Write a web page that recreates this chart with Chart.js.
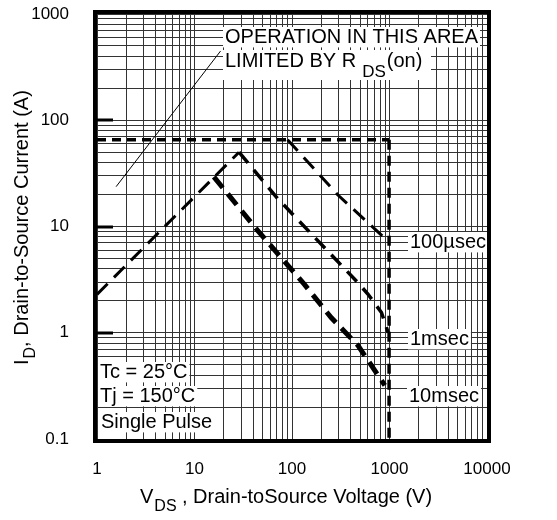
<!DOCTYPE html>
<html>
<head>
<meta charset="utf-8">
<script src="https://cdn.jsdelivr.net/npm/chart.js@4.4.0/dist/chart.umd.min.js"></script>
<style>
html, body { margin: 0; padding: 0; background: #fff; }
#wrap { width: 557px; height: 520px; }
</style>
</head>
<body>
<div id="wrap"><canvas id="soa"></canvas></div>
<script>
// decade tick labels
var xTicks = [1, 10, 100, 1000, 10000];
var yTicks = [0.1, 1, 10, 100, 1000];

// current limit (horizontal) and voltage limit (vertical)
var limitV = [1, 990];
var limitI = [65.5, 65.5];
var vmaxV = [990, 990];
var vmaxI = [65.5, 0.1];

// rising part up to the 1ms peak
var riseV = [1, 28.6];
var riseI = [2.3, 50];

var us100V = [90, 296, 970];
var us100I = [65.5, 19.8, 7.25];

var ms1V = [28.6, 71, 476, 603, 827, 970];
var ms1I = [50, 18.4, 2.95, 2.3, 1.55, 1.0];

var ms10V = [15.8, 44.3, 134, 252, 476, 895];
var ms10I = [29.3, 9.2, 2.85, 1.39, 0.757, 0.32];

// thin pointer line to the Rds(on) note
var pointerV = [1.57, 18.5];
var pointerI = [23.7, 448];

var FONT = '"Liberation Sans", Arial, Helvetica, sans-serif';

function pts(xs, ys) {
    return xs.map(function (v, i) { return { x: v, y: ys[i] }; });
}

// grid lines at 1..9 of every decade
function minorGrid(ticks) {
    var out = [];
    for (var i = 0; i < ticks.length - 1; i++)
        for (var m = 1; m < 10; m++) out.push(ticks[i] * m);
    out.push(ticks[ticks.length - 1]);
    return out;
}

function line(data, width, dash) {
    return {
        data: data,
        showLine: true,
        borderColor: '#000',
        backgroundColor: '#000',
        borderWidth: width,
        borderDash: dash,
        pointRadius: 0,
        fill: false,
        tension: 0
    };
}

function boxText(ctx, txt, x, base, size) {
    ctx.font = size + 'px ' + FONT;
    var w = ctx.measureText(txt).width;
    ctx.fillStyle = '#fff';
    ctx.fillRect(x - 2, base - size * 0.8, w + 4, size * 1.02);
    ctx.fillStyle = '#000';
    ctx.fillText(txt, x, base);
    return w;
}

var decor = {
    id: 'decor',
    afterDatasetsDraw: function (chart) {
        var ctx = chart.ctx, a = chart.chartArea, ys = chart.scales.y;
        ctx.save();
        // short decade marks on the left edge
        ctx.strokeStyle = '#000';
        ctx.lineWidth = 3;
        [1, 10, 100].forEach(function (v) {
            var py = Math.round(ys.getPixelForValue(v));
            ctx.beginPath();
            ctx.moveTo(a.left, py);
            ctx.lineTo(a.left + 16, py);
            ctx.stroke();
        });

        ctx.textAlign = 'left';
        ctx.textBaseline = 'alphabetic';
        boxText(ctx, 'OPERATION IN THIS AREA', 225, 43, 20);

        // second line with subscript
        ctx.fillStyle = '#fff';
        ctx.fillRect(223, 50, 208, 30);
        ctx.fillStyle = '#000';
        ctx.font = '20px ' + FONT;
        ctx.fillText('LIMITED BY R', 225, 67);
        var w1 = ctx.measureText('LIMITED BY R').width;
        ctx.font = '17px ' + FONT;
        ctx.fillText('DS', 225 + w1 + 6, 77);
        var w2 = ctx.measureText('DS').width;
        ctx.font = '20px ' + FONT;
        ctx.fillText('(on)', 225 + w1 + 6 + w2 + 1, 67);

        boxText(ctx, '100\u00b5sec', 410, 248, 20);
        boxText(ctx, '1msec', 410, 345, 20);
        boxText(ctx, '10msec', 409, 402, 20);
        boxText(ctx, 'Tc = 25\u00b0C', 100, 378, 20);
        boxText(ctx, 'Tj = 150\u00b0C', 100, 402, 20);
        boxText(ctx, 'Single Pulse', 101, 428, 20);
        ctx.restore();
    },
    afterDraw: function (chart) {
        var ctx = chart.ctx, a = chart.chartArea;
        ctx.save();
        // heavy frame
        ctx.strokeStyle = '#000';
        ctx.lineWidth = 4;
        ctx.strokeRect(a.left - 2, a.top - 2, a.right - a.left + 4, a.bottom - a.top + 4);

        ctx.fillStyle = '#000';
        ctx.textBaseline = 'alphabetic';
        ctx.textAlign = 'left';
        // x title
        ctx.font = '20px ' + FONT;
        ctx.fillText('V', 140, 503);
        var wv = ctx.measureText('V').width;
        ctx.font = '16px ' + FONT;
        ctx.fillText('DS', 140 + wv + 1, 511);
        ctx.font = '20px ' + FONT;
        ctx.fillText(', Drain-toSource Voltage (V)', 182, 503);

        // y title, rotated
        ctx.translate(28, 365);
        ctx.rotate(-Math.PI / 2);
        ctx.font = '20px ' + FONT;
        ctx.fillText('I', 0, 0);
        var wi = ctx.measureText('I').width;
        ctx.font = '16px ' + FONT;
        ctx.fillText('D', wi + 1, 7);
        var wd = ctx.measureText('D').width;
        ctx.font = '20px ' + FONT;
        ctx.fillText(', Drain-to-Source Current (A)', wi + wd + 1, 0);
        ctx.restore();
    }
};

var xGrid = minorGrid(xTicks);
var yGrid = minorGrid(yTicks);

function tickLabel(list) {
    return function (value) {
        for (var i = 0; i < list.length; i++)
            if (Math.abs(list[i] - value) < list[i] * 1e-6) return String(list[i]);
        return '';
    };
}

new Chart(document.getElementById('soa').getContext('2d'), {
    type: 'scatter',
    data: {
        datasets: [
            line(pts(limitV, limitI), 3.5, [9, 6]),
            line(pts(vmaxV, vmaxI), 3.5, [10, 6]),
            line(pts(riseV, riseI), 3, [15, 9]),
            line(pts(us100V, us100I), 3, [15, 9]),
            line(pts(ms1V, ms1I), 3.5, [14, 9]),
            line(pts(ms10V, ms10I), 5, [14, 8]),
            line(pts(pointerV, pointerI), 1, [])
        ]
    },
    options: {
        responsive: true,
        maintainAspectRatio: false,
        animation: false,
        events: [],
        layout: { padding: { left: 0, right: 70, top: 14, bottom: 0 } },
        plugins: {
            legend: { display: false },
            tooltip: { enabled: false }
        },
        scales: {
            x: {
                type: 'logarithmic',
                min: 1,
                max: 10000,
                afterBuildTicks: function (axis) {
                    axis.ticks = xGrid.map(function (v) { return { value: v }; });
                },
                afterFit: function (axis) {
                    axis.height = 81;
                    axis.paddingLeft = 0;
                    axis.paddingRight = 0;
                },
                grid: { color: '#333', lineWidth: 1, drawTicks: false },
                border: { display: false },
                ticks: {
                    autoSkip: false,
                    maxRotation: 0,
                    minRotation: 0,
                    padding: 20,
                    color: '#000',
                    font: { family: FONT, size: 17 },
                    callback: tickLabel(xTicks)
                }
            },
            y: {
                type: 'logarithmic',
                min: 0.1,
                max: 1000,
                afterBuildTicks: function (axis) {
                    axis.ticks = yGrid.map(function (v) { return { value: v }; });
                },
                afterFit: function (axis) {
                    axis.width = 97;
                    axis.paddingTop = 0;
                    axis.paddingBottom = 0;
                },
                grid: { color: '#333', lineWidth: 1, drawTicks: false },
                border: { display: false },
                ticks: {
                    autoSkip: false,
                    padding: 28,
                    color: '#000',
                    font: { family: FONT, size: 17 },
                    callback: tickLabel(yTicks)
                }
            }
        }
    },
    plugins: [decor]
});
</script>
</body>
</html>
